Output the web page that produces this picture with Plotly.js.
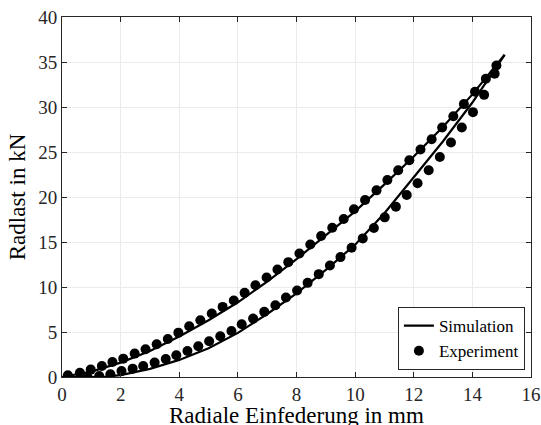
<!DOCTYPE html>
<html>
<head>
<meta charset="utf-8">
<script src="https://cdn.plot.ly/plotly-3.0.1.min.js"></script>
<style>html,body{margin:0;padding:0;background:#fff;}#chart{width:541px;height:425px;}</style>
</head>
<body>
<div id="chart"></div>
<script>
// Simulation: upper (unloading) and lower (loading) branches
const simUpperX = [0, 1, 2, 3, 4, 5, 6, 7, 8, 9, 10, 11, 12, 13, 14, 15.1];
const simUpperY = [0, 0.6, 1.6, 2.9, 4.5, 6.3, 8.3, 10.6, 13.1, 15.8, 18.4, 21.4, 24.5, 27.8, 31.4, 35.8];
const simLowerX = [15.1, 14, 13, 12, 11, 10, 9, 8, 7, 6, 5, 4, 3, 2, 1.5, 1, 0];
const simLowerY = [35.8, 30.5, 26.2, 22.2, 18.2, 14.7, 11.9, 9.3, 7.0, 4.9, 3.2, 1.9, 0.9, 0.2, 0.05, 0, 0];

// Experiment: upper branch
const expUpperX = [0.2, 0.61, 0.98, 1.36, 1.72, 2.09, 2.48, 2.85, 3.23, 3.61, 3.97, 4.34, 4.72, 5.11, 5.48, 5.86, 6.23, 6.6, 6.98, 7.35, 7.72, 8.1, 8.47, 8.84, 9.22, 9.61, 9.96, 10.34, 10.73, 11.1, 11.47, 11.85, 12.23, 12.61, 12.97, 13.35, 13.71, 14.09, 14.46, 14.82];
const expUpperY = [0.19, 0.48, 0.82, 1.22, 1.67, 2.04, 2.6, 3.08, 3.64, 4.23, 4.93, 5.64, 6.31, 7.05, 7.79, 8.5, 9.35, 10.2, 11.06, 11.95, 12.76, 13.73, 14.73, 15.66, 16.59, 17.55, 18.63, 19.67, 20.74, 21.89, 22.97, 24.08, 25.27, 26.42, 27.72, 28.98, 30.32, 31.69, 33.14, 34.62];
// Experiment: lower branch
const expLowerX = [0.88, 1.27, 1.65, 2.03, 2.41, 2.77, 3.16, 3.54, 3.9, 4.28, 4.65, 5.02, 5.4, 5.78, 6.13, 6.52, 6.9, 7.28, 7.64, 8.02, 8.38, 8.76, 9.14, 9.5, 9.88, 10.26, 10.64, 11.01, 11.39, 11.76, 12.13, 12.51, 12.89, 13.27, 13.64, 14.02, 14.4, 14.76];
const expLowerY = [-0.1, 0.1, 0.3, 0.67, 0.93, 1.22, 1.6, 2.0, 2.41, 2.89, 3.41, 3.97, 4.53, 5.12, 5.86, 6.49, 7.24, 7.98, 8.83, 9.61, 10.46, 11.43, 12.39, 13.32, 14.36, 15.4, 16.55, 17.74, 18.92, 20.22, 21.52, 22.97, 24.45, 26.05, 27.72, 29.43, 31.35, 33.69];

const xTicks = [0, 2, 4, 6, 8, 10, 12, 14, 16];
const yTicks = [0, 5, 10, 15, 20, 25, 30, 35, 40];
const xTitle = 'Radiale Einfederung in mm';
const yTitle = 'Radlast in kN';

const simX = simUpperX.concat([null], simLowerX);
const simY = simUpperY.concat([null], simLowerY);
const expX = expUpperX.concat(expLowerX);
const expY = expUpperY.concat(expLowerY);

const font = "'Liberation Serif', 'Times New Roman', serif";
const axisCol = '#262626';

const traces = [
  {x: simX, y: simY, mode: 'lines', name: 'Simulation', line: {color: '#000', width: 2.2}, connectgaps: false},
  {x: expX, y: expY, mode: 'markers', name: 'Experiment', marker: {color: '#000', size: 10}}
];

const axisCommon = {
  showline: true, linecolor: axisCol, linewidth: 1, mirror: 'ticks',
  ticks: 'inside', ticklen: 5, tickcolor: axisCol, tickwidth: 1,
  showgrid: true, gridcolor: '#ebebeb', gridwidth: 1, zeroline: false,
  tickfont: {family: font, size: 19, color: axisCol}
};

const layout = {
  width: 541, height: 425,
  margin: {l: 62, r: 10, t: 17, b: 48},
  paper_bgcolor: '#fff', plot_bgcolor: '#fff',
  showlegend: true,
  legend: {
    x: 0.987, y: 0.019, xanchor: 'right', yanchor: 'bottom',
    bgcolor: '#fff', bordercolor: axisCol, borderwidth: 1,
    font: {family: font, size: 17, color: '#000'},
    itemwidth: 30, tracegroupgap: 0
  },
  xaxis: Object.assign({}, axisCommon, {
    range: [0, 16], tickvals: xTicks, ticktext: xTicks.map(String)
  }),
  yaxis: Object.assign({}, axisCommon, {
    range: [0, 40], tickvals: yTicks, ticktext: yTicks.map(String),
    title: {text: yTitle, font: {family: font, size: 23, color: '#000'}, standoff: 6}
  }),
  annotations: [{
    text: xTitle, xref: 'paper', yref: 'paper', x: 0.5, y: -0.07,
    xanchor: 'center', yanchor: 'top', showarrow: false, borderpad: 0,
    font: {family: font, size: 23, color: '#000'}
  }]
};

Plotly.newPlot('chart', traces, layout, {staticPlot: true, displayModeBar: false});
</script>
</body>
</html>
